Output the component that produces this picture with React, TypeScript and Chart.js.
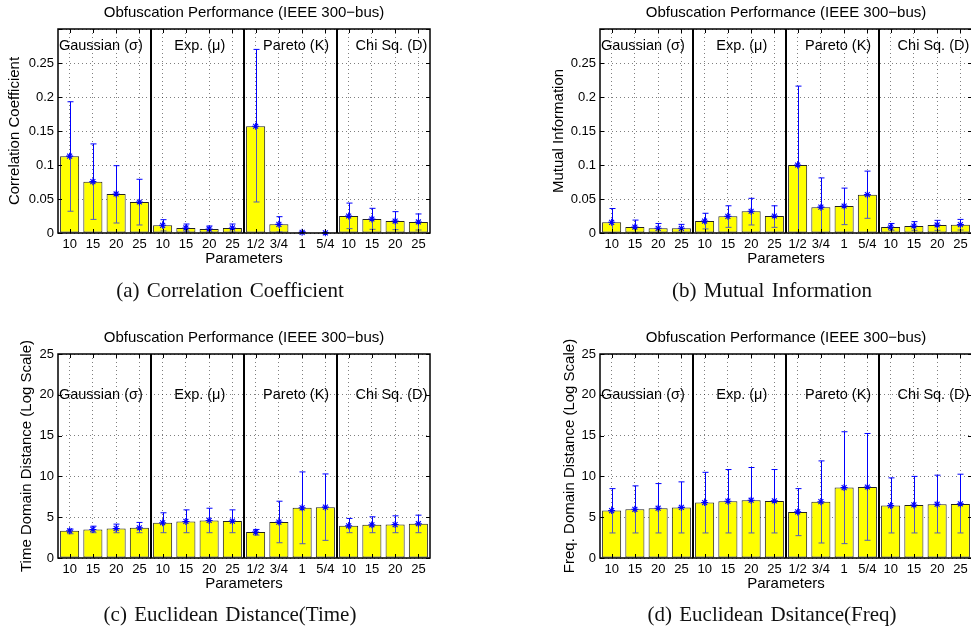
import React, { useEffect, useRef } from 'react';
import { Chart, registerables } from 'chart.js';

Chart.register(...registerables);

const SANS = '"Liberation Sans", Arial, Helvetica, sans-serif';
const SERIF = '"Liberation Serif", "Times New Roman", serif';

// ---------- data ----------
const categories = ['10', '15', '20', '25', '10', '15', '20', '25', '1/2', '3/4', '1', '5/4', '10', '15', '20', '25'];
const groupLabels = ['Gaussian (σ)', 'Exp. (μ)', 'Pareto (K)', 'Chi Sq. (D)'];
const groupLabelX = [-0.46, 4.5, 8.32, 12.3];
const chartTitle = 'Obfuscation Performance (IEEE 300−bus)';
const xAxisTitle = 'Parameters';

// (a) Correlation coefficient
const corrMean = [0.113, 0.0755, 0.0574, 0.0456, 0.0113, 0.0074, 0.0059, 0.0074, 0.157, 0.0127, 0.001, 0.0003, 0.025, 0.0206, 0.0176, 0.0162];
const corrHigh = [0.193, 0.131, 0.099, 0.079, 0.0196, 0.0132, 0.0103, 0.0132, 0.27, 0.024, 0.0018, 0.0006, 0.044, 0.0363, 0.0314, 0.028];
const corrLow = [0.032, 0.02, 0.0147, 0.0118, 0.003, 0.0025, 0.0015, 0.0015, 0.0456, 0.0015, 0.0002, 0.0, 0.0064, 0.0054, 0.0049, 0.0044];

// (b) Mutual information
const miMean = [0.0157, 0.0088, 0.0069, 0.0069, 0.0176, 0.0245, 0.032, 0.025, 0.1, 0.038, 0.0397, 0.0564, 0.0088, 0.0103, 0.0118, 0.0123];
const miHigh = [0.036, 0.019, 0.014, 0.0127, 0.029, 0.04, 0.051, 0.04, 0.216, 0.081, 0.066, 0.091, 0.014, 0.0167, 0.0186, 0.02];
const miLow = [0, 0, 0, 0.001, 0.006, 0.0083, 0.0118, 0.0083, 0, 0, 0.0123, 0.0216, 0.004, 0.004, 0.004, 0.0044];

// (c) Euclidean distance (time)
const timeMean = [3.34, 3.5, 3.62, 3.7, 4.32, 4.48, 4.6, 4.52, 3.18, 4.4, 6.15, 6.23, 3.95, 4.07, 4.1, 4.2];
const timeHigh = [3.54, 3.9, 4.15, 4.36, 5.54, 5.9, 6.1, 5.9, 3.5, 6.96, 10.55, 10.3, 4.85, 5.05, 5.17, 5.25];
const timeLow = [2.97, 3.1, 3.1, 3.1, 3.1, 3.1, 3.1, 3.1, 2.8, 1.87, 1.75, 2.16, 3.1, 3.1, 3.1, 3.1];

// (d) Euclidean distance (freq)
const freqMean = [5.81, 5.97, 6.1, 6.2, 6.8, 6.96, 7.08, 7.0, 5.65, 6.9, 8.63, 8.7, 6.42, 6.5, 6.59, 6.63];
const freqHigh = [8.5, 8.84, 9.12, 9.33, 10.5, 10.84, 11.09, 10.84, 8.5, 11.9, 15.47, 15.26, 9.82, 10.0, 10.15, 10.27];
const freqLow = [3.07, 3.07, 3.07, 3.07, 3.07, 3.07, 3.07, 3.07, 2.74, 1.84, 1.76, 2.17, 3.07, 3.07, 3.07, 3.07];

type PanelDef = {
  mean: number[];
  high: number[];
  low: number[];
  yTitle: string;
  ymax: number;
  step: number;
  labelY: number;
  left: number;
  top: number;
  width: number;
  height: number;
  yAxisWidth: number;
  yTitlePad: number;
  padRight: number;
};

const BLUE = '#0000ff';
const BLUE_IN_BAR = 'rgb(85,92,180)';
const GRID = 'rgba(0,0,0,0.5)';

function makeDecor(p: PanelDef) {
  return {
    id: 'decor',
    afterDatasetDraw(chart: any, args: any) {
      if (args.meta.type !== 'bar') return;
      const { ctx, scales } = chart;
      const x = scales.x;
      const y = scales.y;
      const cap = 3;
      ctx.save();
      ctx.lineWidth = 1;
      for (let i = 0; i < p.mean.length; i++) {
        const px = Math.round(x.getPixelForValue(i)) + 0.5;
        const pH = y.getPixelForValue(p.high[i]);
        const pL = y.getPixelForValue(p.low[i]);
        const pM = y.getPixelForValue(p.mean[i]);
        ctx.strokeStyle = BLUE;
        ctx.beginPath();
        ctx.moveTo(px, pH);
        ctx.lineTo(px, pM);
        ctx.moveTo(px - cap, pH);
        ctx.lineTo(px + cap, pH);
        ctx.stroke();
        ctx.strokeStyle = BLUE_IN_BAR;
        ctx.beginPath();
        ctx.moveTo(px, pM);
        ctx.lineTo(px, pL);
        ctx.moveTo(px - cap, pL);
        ctx.lineTo(px + cap, pL);
        ctx.stroke();
      }
      ctx.restore();
    },
    afterDraw(chart: any) {
      const { ctx, chartArea: ca, scales } = chart;
      const x = scales.x;
      const y = scales.y;
      ctx.save();
      ctx.strokeStyle = '#000';
      ctx.lineWidth = 1;
      ctx.beginPath();
      y.ticks.forEach((t: any) => {
        const py = Math.round(y.getPixelForValue(t.value)) + 0.5;
        ctx.moveTo(ca.left, py);
        ctx.lineTo(ca.left + 4, py);
        ctx.moveTo(ca.right, py);
        ctx.lineTo(ca.right - 4, py);
      });
      for (let i = 0; i < categories.length; i++) {
        const px = Math.round(x.getPixelForValue(i)) + 0.5;
        ctx.moveTo(px, ca.bottom);
        ctx.lineTo(px, ca.bottom - 4);
        ctx.moveTo(px, ca.top);
        ctx.lineTo(px, ca.top + 4);
      }
      ctx.stroke();
      ctx.lineWidth = 2;
      ctx.beginPath();
      [4, 8, 12].forEach((b) => {
        const px = Math.round((x.getPixelForValue(b - 1) + x.getPixelForValue(b)) / 2);
        ctx.moveTo(px, ca.top);
        ctx.lineTo(px, ca.bottom);
      });
      ctx.stroke();
      ctx.lineWidth = 1.5;
      ctx.strokeRect(ca.left, ca.top, ca.right - ca.left, ca.bottom - ca.top);
      ctx.fillStyle = '#000';
      ctx.font = `14.5px ${SANS}`;
      ctx.textAlign = 'left';
      ctx.textBaseline = 'middle';
      groupLabels.forEach((g, k) => {
        ctx.fillText(g, x.getPixelForValue(groupLabelX[k]), y.getPixelForValue(p.labelY));
      });
      ctx.font = `15px ${SANS}`;
      ctx.textAlign = 'center';
      ctx.fillText(chartTitle, (ca.left + ca.right) / 2, 13);
      ctx.restore();
    },
  };
}

function fmt(v: number, max: number) {
  if (v > max * 0.9 && max < 1) return '';
  return String(Number(v.toFixed(3)));
}

function Panel({ p }: { p: PanelDef }) {
  const ref = useRef<HTMLCanvasElement | null>(null);
  useEffect(() => {
    if (!ref.current) return;
    const chart = new Chart(ref.current, {
      type: 'bar',
      data: {
        labels: categories,
        datasets: [
          {
            type: 'bar',
            data: p.mean,
            backgroundColor: '#ffff00',
            borderColor: '#222',
            borderWidth: 1,
            borderSkipped: false,
            barPercentage: 0.82,
            categoryPercentage: 1,
            order: 2,
          } as any,
          {
            type: 'line',
            data: p.mean,
            showLine: false,
            pointStyle: 'star',
            pointRadius: 3.5,
            pointBorderWidth: 1.1,
            borderColor: BLUE,
            backgroundColor: BLUE,
            order: 1,
            clip: false,
          } as any,
        ],
      },
      options: {
        responsive: false,
        animation: false,
        events: [],
        layout: { padding: { top: 29, right: p.padRight, left: 0, bottom: 0 } },
        plugins: {
          legend: { display: false },
          tooltip: { enabled: false },
          title: { display: false },
        },
        scales: {
          x: {
            offset: true,
            grid: { offset: false, color: GRID, lineWidth: 1, drawTicks: false },
            border: { display: false, dash: [1, 3] },
            ticks: { padding: 4, font: { family: SANS, size: 13 }, color: '#000', autoSkip: false, maxRotation: 0 },
            title: {
              display: true,
              text: xAxisTitle,
              font: { family: SANS, size: 15 },
              color: '#000',
              padding: { top: 0, bottom: 12 },
            },
            afterFit: (s: any) => {
              s.height = 47;
            },
          },
          y: {
            min: 0,
            max: p.ymax,
            grid: { color: GRID, lineWidth: 1, drawTicks: false },
            border: { display: false, dash: [1, 3] },
            ticks: {
              stepSize: p.step,
              padding: 4,
              font: { family: SANS, size: 13 },
              color: '#000',
              callback: (v: any) => fmt(Number(v), p.ymax),
            },
            title: {
              display: true,
              text: p.yTitle,
              font: { family: SANS, size: 15 },
              color: '#000',
              padding: { top: p.yTitlePad, bottom: 0 },
            },
            afterFit: (s: any) => {
              s.width = p.yAxisWidth;
            },
          },
        },
      } as any,
      plugins: [makeDecor(p) as any],
    });
    return () => chart.destroy();
  }, [p]);
  return (
    <canvas
      ref={ref}
      width={p.width}
      height={p.height}
      style={{ position: 'absolute', left: p.left, top: p.top, width: p.width, height: p.height }}
    />
  );
}

const panels: PanelDef[] = [
  {
    mean: corrMean, high: corrHigh, low: corrLow, yTitle: 'Correlation Coefficient',
    ymax: 0.3, step: 0.05, labelY: 0.275,
    left: 0, top: 0, width: 480, height: 280, yAxisWidth: 58, yTitlePad: 6, padRight: 50,
  },
  {
    mean: miMean, high: miHigh, low: miLow, yTitle: 'Mutual Information',
    ymax: 0.3, step: 0.05, labelY: 0.275,
    left: 480, top: 0, width: 500, height: 280, yAxisWidth: 120, yTitlePad: 70, padRight: 8,
  },
  {
    mean: timeMean, high: timeHigh, low: timeLow, yTitle: 'Time Domain Distance (Log Scale)',
    ymax: 25, step: 5, labelY: 20,
    left: 0, top: 325, width: 480, height: 280, yAxisWidth: 58, yTitlePad: 18, padRight: 50,
  },
  {
    mean: freqMean, high: freqHigh, low: freqLow, yTitle: 'Freq. Domain Distance (Log Scale)',
    ymax: 25, step: 5, labelY: 20,
    left: 480, top: 325, width: 500, height: 280, yAxisWidth: 120, yTitlePad: 81, padRight: 8,
  },
];

const captions = [
  { text: '(a) Correlation Coefficient', cx: 230, cy: 290 },
  { text: '(b) Mutual Information', cx: 772, cy: 290 },
  { text: '(c) Euclidean Distance(Time)', cx: 230, cy: 614 },
  { text: '(d) Euclidean Dsitance(Freq)', cx: 772, cy: 614 },
];

export default function App() {
  return (
    <div
      style={{
        position: 'fixed', left: 0, top: 0, width: 971, height: 629,
        overflow: 'hidden', background: '#fff',
      }}
    >
      {panels.map((p, i) => (
        <Panel key={i} p={p} />
      ))}
      {captions.map((c, i) => (
        <div
          key={'c' + i}
          style={{
            position: 'absolute', left: c.cx - 200, top: c.cy - 13, width: 400,
            height: 26, lineHeight: '26px', textAlign: 'center',
            fontFamily: SERIF, fontSize: 21, wordSpacing: 2, color: '#111', whiteSpace: 'nowrap',
          }}
        >
          {c.text}
        </div>
      ))}
    </div>
  );
}
